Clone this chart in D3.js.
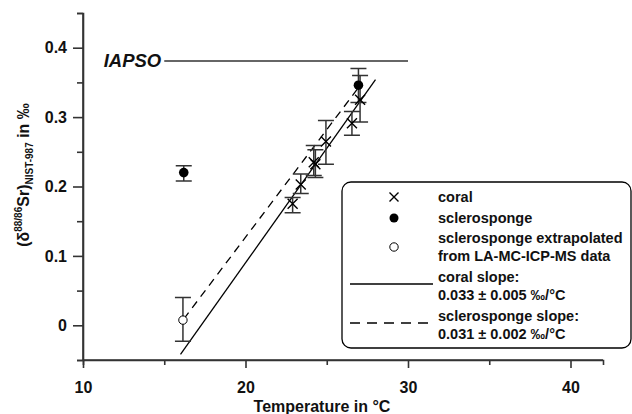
<!DOCTYPE html>
<meta charset="utf-8">
<style>
body{margin:0;background:white}
text{font-family:'Liberation Sans',Arial,sans-serif;font-weight:bold;fill:#111}
</style>
<svg id="svg" width="632" height="414"></svg>
<script src="https://d3js.org/d3.v7.min.js"></script>
<script>
  // coral points: temperature, delta, error low, error high
  var coralT   = [22.9, 23.4, 24.2, 24.3, 24.95, 26.55, 27.05]
  var coralD   = [0.175, 0.203, 0.235, 0.232, 0.265, 0.291, 0.325]
  var coralLo  = [0.162, 0.190, 0.216, 0.213, 0.232, 0.274, 0.293]
  var coralHi  = [0.184, 0.218, 0.259, 0.253, 0.295, 0.308, 0.360]

  var spongeT  = [16.2, 26.95]
  var spongeD  = [0.220, 0.346]
  var spongeLo = [0.208, 0.321]
  var spongeHi = [0.230, 0.370]

  var extraT  = [16.15]
  var extraD  = [0.0075]
  var extraLo = [-0.023]
  var extraHi = [0.040]

  var coralLine  = [[16.0, -0.042], [28.0, 0.354]]
  var spongeLine = [[16.2, 0.009], [27.0, 0.344]]
  var iapso = [[15.0, 0.381], [30.0, 0.381]]

  var xTicks = [10, 20, 30, 40], xMinor = [15, 25, 35]
  var yTicks = [0, 0.1, 0.2, 0.3, 0.4], yMinor = [-0.05, 0.05, 0.15, 0.25, 0.35, 0.45]

  var legendRows = [
    {sym:'x', lines:['coral']},
    {sym:'dot', lines:['sclerosponge']},
    {sym:'open', lines:['sclerosponge extrapolated', 'from LA-MC-ICP-MS data']},
    {sym:'solid', lines:['coral slope:', '0.033 \u00b1 0.005 \u2030/\u00b0C']},
    {sym:'dash', lines:['sclerosponge slope:', '0.031 \u00b1 0.002 \u2030/\u00b0C']}
  ]

  var svg = d3.select('#svg')
  var x = d3.scaleLinear().domain([10, 42]).range([83, 603])
  var y = d3.scaleLinear().domain([-0.05, 0.45]).range([360, 13])
  var axisCol = '#333'
  var font = "'Liberation Sans',Arial,sans-serif"

  // axes
  var gx = svg.append('g').attr('transform', 'translate(0,360)')
  gx.call(d3.axisBottom(x).tickValues(xTicks).tickSize(8).tickFormat(d3.format('d')))
  gx.append('g').call(d3.axisBottom(x).tickValues(xMinor).tickSize(5).tickFormat(''))
  var gy = svg.append('g').attr('transform', 'translate(83,0)')
  gy.call(d3.axisLeft(y).tickValues(yTicks).tickSize(10).tickFormat(d => d === 0 ? '0' : d3.format('.1f')(d)))
  gy.append('g').call(d3.axisLeft(y).tickValues(yMinor).tickSize(6).tickFormat(''))
  svg.selectAll('.domain').attr('stroke', axisCol).attr('stroke-width', 1.6)
  svg.selectAll('.tick line').attr('stroke', axisCol).attr('stroke-width', 1.6)
  gx.select('.domain').attr('d', 'M83,0H603')
  gy.select('.domain').attr('d', 'M0,13V360')
  gx.selectAll('.tick text').attr('font-size', 16).attr('font-weight', 'bold').attr('fill', '#111')
    .attr('font-family', font).attr('y', 22).attr('dy', '0.71em')
  gy.selectAll('.tick text').attr('font-size', 16).attr('font-weight', 'bold').attr('fill', '#111')
    .attr('font-family', font).attr('x', -16)

  // axis titles
  svg.append('text').attr('x', 322).attr('y', 412).attr('text-anchor', 'middle')
    .attr('font-size', 16).text('Temperature in \u00b0C')
  var yl = svg.append('text').attr('transform', 'translate(29,175) rotate(-90)')
    .attr('text-anchor', 'middle').attr('font-size', 16)
  yl.append('tspan').text('(\u03b4')
  yl.append('tspan').attr('font-size', 10).attr('dy', -7).text('88/86')
  yl.append('tspan').attr('dy', 7).text('Sr)')
  yl.append('tspan').attr('font-size', 10).attr('dy', 4).text('NIST-987')
  yl.append('tspan').attr('dy', -4).text(' in \u2030')

  // IAPSO
  var line = d3.line().x(d => x(d[0])).y(d => y(d[1]))
  svg.append('path').attr('d', line(iapso)).attr('stroke', '#333').attr('stroke-width', 1.5).attr('fill', 'none')
  svg.append('text').attr('x', x(iapso[0][0]) - 3).attr('y', y(iapso[0][1]) + 6.5).attr('text-anchor', 'end')
    .attr('font-size', 18.5).attr('font-style', 'italic').text('IAPSO')

  // regression lines
  svg.append('path').attr('d', line(coralLine)).attr('stroke', '#000').attr('stroke-width', 1.3).attr('fill', 'none')
  svg.append('path').attr('d', line(spongeLine)).attr('stroke', '#000').attr('stroke-width', 1.3)
    .attr('stroke-dasharray', '8,6').attr('fill', 'none')

  // error bars
  function errbars(T, lo, hi) {
    var g = svg.append('g').attr('stroke', '#333').attr('stroke-width', 1.5).attr('fill', 'none')
    T.forEach((t, i) => {
      var cx = x(t)
      g.append('path').attr('d', 'M' + cx + ',' + y(lo[i]) + 'V' + y(hi[i])
        + 'M' + (cx - 8) + ',' + y(lo[i]) + 'H' + (cx + 8)
        + 'M' + (cx - 8) + ',' + y(hi[i]) + 'H' + (cx + 8))
    })
  }
  errbars(coralT, coralLo, coralHi)
  errbars(spongeT, spongeLo, spongeHi)
  errbars(extraT, extraLo, extraHi)

  function cross(g, cx, cy, s) {
    g.append('path').attr('d', 'M' + (cx - s) + ',' + (cy - s) + 'L' + (cx + s) + ',' + (cy + s)
      + 'M' + (cx - s) + ',' + (cy + s) + 'L' + (cx + s) + ',' + (cy - s))
      .attr('stroke', '#000').attr('stroke-width', 1.4)
  }
  var pts = svg.append('g')
  coralT.forEach((t, i) => cross(pts, x(t), y(coralD[i]), 5))
  spongeT.forEach((t, i) => pts.append('circle').attr('cx', x(t)).attr('cy', y(spongeD[i])).attr('r', 4.8).attr('fill', '#000'))
  extraT.forEach((t, i) => pts.append('circle').attr('cx', x(t)).attr('cy', y(extraD[i])).attr('r', 4.2)
    .attr('fill', 'white').attr('stroke', '#000').attr('stroke-width', 1))

  // legend
  var lg = svg.append('g')
  lg.append('rect').attr('x', 342).attr('y', 182).attr('width', 289).attr('height', 166).attr('rx', 9)
    .attr('fill', 'white').attr('stroke', '#000').attr('stroke-width', 1.3)
  var rowY = [197, 218, 238, 277, 316]
  legendRows.forEach((r, i) => {
    var cy = rowY[i]
    var my = r.lines.length > 1 ? cy + 9 : cy
    if (r.sym === 'x') cross(lg, 394, my, 4.5)
    if (r.sym === 'dot') lg.append('circle').attr('cx', 394).attr('cy', my).attr('r', 4.5).attr('fill', '#000')
    if (r.sym === 'open') lg.append('circle').attr('cx', 394).attr('cy', my).attr('r', 4.2)
      .attr('fill', 'white').attr('stroke', '#000').attr('stroke-width', 1)
    if (r.sym === 'solid' || r.sym === 'dash') lg.append('path').attr('d', 'M350,' + (my - 2) + 'H433')
      .attr('stroke', '#000').attr('stroke-width', 1.3).attr('stroke-dasharray', r.sym === 'dash' ? '10,7' : null)
    r.lines.forEach((l, j) => {
      lg.append('text').attr('x', 438).attr('y', cy + j * 18 + 5).attr('font-size', 14.5).text(l)
    })
  })
</script>
